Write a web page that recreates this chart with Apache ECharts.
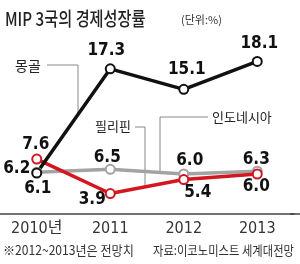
<!DOCTYPE html>
<html>
<head>
<meta charset="utf-8">
<script src="https://cdn.jsdelivr.net/npm/echarts@6/dist/echarts.min.js"></script>
<style>
  html, body { margin: 0; padding: 0; background: #fff; }
  #main { width: 300px; height: 264px; }
</style>
</head>
<body>
<div id="main"></div>
<script>
// 데이터
var years = ['2010년', '2011', '2012', '2013'];
var mongolia = [6.1, 17.3, 15.1, 18.1];
var philippines = [7.6, 3.9, 5.4, 6.0];
var indonesia = [6.2, 6.5, 6.0, 6.3];

// 라벨 위치 (점 중심 기준 offset)
var mongoliaLabelOffset = [[1, 16], [-4, -18], [3, -20], [2, -18]];
var philippinesLabelOffset = [[-1, -15], [-18, 6], [14, 13], [-1, 13]];
var indonesiaLabelOffset = [[-20, -4], [-3, -12], [6, -13], [-1, -12]];

var numFont = '"Liberation Sans Narrow", "DejaVu Sans Condensed", "Noto Sans CJK KR", sans-serif';
var korFont = '"Noto Sans CJK KR", sans-serif';

function makeData(values, offsets) {
  return values.map(function (v, i) {
    return {
      value: v,
      label: { offset: offsets[i] }
    };
  });
}

function makeSeries(name, values, offsets, color) {
  return {
    name: name,
    type: 'line',
    data: makeData(values, offsets),
    symbol: 'circle',
    symbolSize: 9,
    showAllSymbol: true,
    lineStyle: { color: color, width: 3.5 },
    itemStyle: { color: '#fff', borderColor: color, borderWidth: 2 },
    label: {
      show: true,
      position: 'inside',
      formatter: function (p) { return p.value.toFixed(1); },
      color: '#111',
      fontFamily: numFont,
      fontWeight: 'bold',
      fontSize: 17
    },
    emphasis: { disabled: true },
    animation: false
  };
}

var myChart = echarts.init(document.getElementById('main'));
var option = {
  backgroundColor: '#fff',
  grid: {
    left: 0,
    right: 6,
    top: 40,
    bottom: 50
  },
  xAxis: {
    type: 'category',
    data: years,
    axisLine: { lineStyle: { color: '#444', width: 1.5 } },
    axisTick: {
      alignWithLabel: true,
      inside: true,
      length: 5,
      lineStyle: { color: '#444', width: 1 }
    },
    axisLabel: {
      color: '#333',
      fontFamily: numFont,
      fontSize: 16,
      margin: 7
    }
  },
  yAxis: {
    type: 'value',
    min: 1.7,
    max: 20.4,
    show: false
  },
  series: [
    makeSeries('인도네시아', indonesia, indonesiaLabelOffset, '#a3a3a3'),
    makeSeries('필리핀', philippines, philippinesLabelOffset, '#d3161f'),
    makeSeries('몽골', mongolia, mongoliaLabelOffset, '#111')
  ],
  graphic: [
    // 제목
    {
      type: 'text', x: 5, y: 19, scaleX: 0.8,
      style: { text: 'MIP 3국의 경제성장률', fill: '#222', font: '500 19px ' + korFont, textVerticalAlign: 'middle' }
    },
    {
      type: 'text', x: 181, y: 20,
      style: { text: '(단위:%)', fill: '#333', font: '11px ' + korFont, textVerticalAlign: 'middle' }
    },
    // 계열 이름과 지시선
    {
      type: 'text', x: 15, y: 66,
      style: { text: '몽골', fill: '#222', font: '14px ' + korFont, textVerticalAlign: 'middle' }
    },
    {
      type: 'polyline',
      shape: { points: [[47, 65], [78, 65], [78, 116]] },
      style: { stroke: '#888', lineWidth: 1, fill: null }
    },
    {
      type: 'text', x: 95, y: 126,
      style: { text: '필리핀', fill: '#222', font: '13px ' + korFont, textVerticalAlign: 'middle' }
    },
    {
      type: 'polyline',
      shape: { points: [[135, 127], [145, 127], [145, 186]] },
      style: { stroke: '#888', lineWidth: 1, fill: null }
    },
    {
      type: 'text', x: 212, y: 117,
      style: { text: '인도네시아', fill: '#222', font: '13px ' + korFont, textVerticalAlign: 'middle' }
    },
    {
      type: 'polyline',
      shape: { points: [[208, 117], [160, 117], [160, 172]] },
      style: { stroke: '#888', lineWidth: 1, fill: null }
    },
    // 축선 연장
    {
      type: 'line',
      shape: { x1: 290, y1: 214, x2: 300, y2: 214 },
      style: { stroke: '#444', lineWidth: 1.5 }
    },
    // 하단 주석
    {
      type: 'text', x: 3, y: 250, scaleX: 0.93,
      style: { text: '※2012~2013년은 전망치', fill: '#333', font: '13px ' + korFont, textVerticalAlign: 'middle' }
    },
    {
      type: 'text', x: 153, y: 250, scaleX: 0.87,
      style: { text: '자료:이코노미스트 세계대전망', fill: '#333', font: '13px ' + korFont, textVerticalAlign: 'middle' }
    }
  ]
};
myChart.setOption(option);
window.addEventListener('resize', function () {
  myChart.resize();
});
</script>
</body>
</html>
